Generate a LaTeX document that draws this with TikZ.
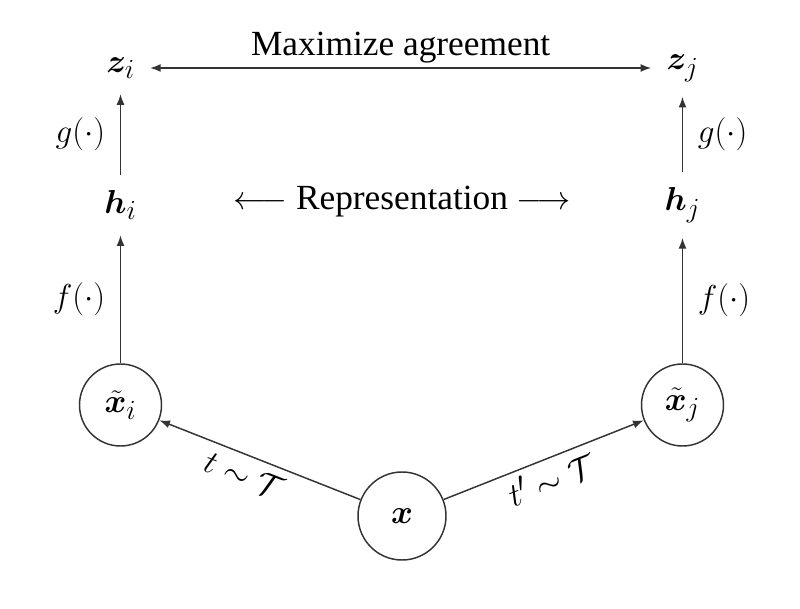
\documentclass[tikz,border=0pt]{standalone}
\usepackage{amsmath}
\usepackage{bm}
\usepackage{fontspec}
\setmainfont{Liberation Serif}
\usetikzlibrary{arrows.meta}

\tikzset{every picture/.style={line width=1.1pt}}
\tikzset{
  every node/.style={font=\fontsize{29}{34}\selectfont},
  caption/.style={font=\fontsize{26.5}{32}\selectfont},
  >={Latex[length=8pt,width=6pt]},
  vec/.style={inner sep=11pt},
  view/.style={circle,draw=black!80,line width=1.1pt,inner sep=0pt,minimum size=61.5pt},
  flow/.style={->,draw=black!80},
  aug/.style={below,inner sep=6pt},
}

\begin{document}
\begin{tikzpicture}[x=0.75pt,y=0.75pt,yscale=-1,xscale=1]
\useasboundingbox (0,0) rectangle (800,609);

%Shape: Circle
\node [view] (xti) at (120.5,405) {$\tilde{\bm{x}}_i$};
%Shape: Circle
\node [view] (xtj) at (682.5,405) {$\tilde{\bm{x}}_j$};
%Shape: Circle
\node [view,minimum size=66pt] (x) at (402,516) {$\bm{x}$};

% Text Node
\node [vec] (hi) at (120.5,205) {$\bm{h}_i$};
% Text Node
\node [vec] (hj) at (682.5,205) {$\bm{h}_j$};
% Text Node
\node [vec] (zi) at (120.5,68) {$\bm{z}_i$};
% Text Node
\node [vec] (zj) at (682.5,68) {$\bm{z}_j$};
% Text Node
\node [caption] (rep) at (402,202) {$\longleftarrow$ Representation $\longrightarrow$};

%Straight Lines
\draw [flow] (x) -- node [aug,rotate=-21.5,pos=0.54] {$t\sim\mathcal{T}$} (xti);
%Straight Lines
\draw [flow] (x) -- node [aug,rotate=21.5,pos=0.5,inner sep=4pt] {$t'\sim\mathcal{T}$} (xtj);
%Straight Lines
\draw [flow] (xti) -- node [left,inner sep=11pt] {$f(\cdot)$} (xti |- hi.south);
%Straight Lines
\draw [flow] (xtj) -- node [right,inner sep=11pt] {$f(\cdot)$} (xtj |- hj.south);
%Straight Lines
\draw [flow] (hi) -- node [left,inner sep=11pt] {$g(\cdot)$} (zi);
%Straight Lines
\draw [flow] (hj) -- node [right,inner sep=11pt] {$g(\cdot)$} (zj);
%Straight Lines
\draw [flow,<->] (zi) -- node [caption,above] {Maximize agreement} (zj);

\end{tikzpicture}
\end{document}
